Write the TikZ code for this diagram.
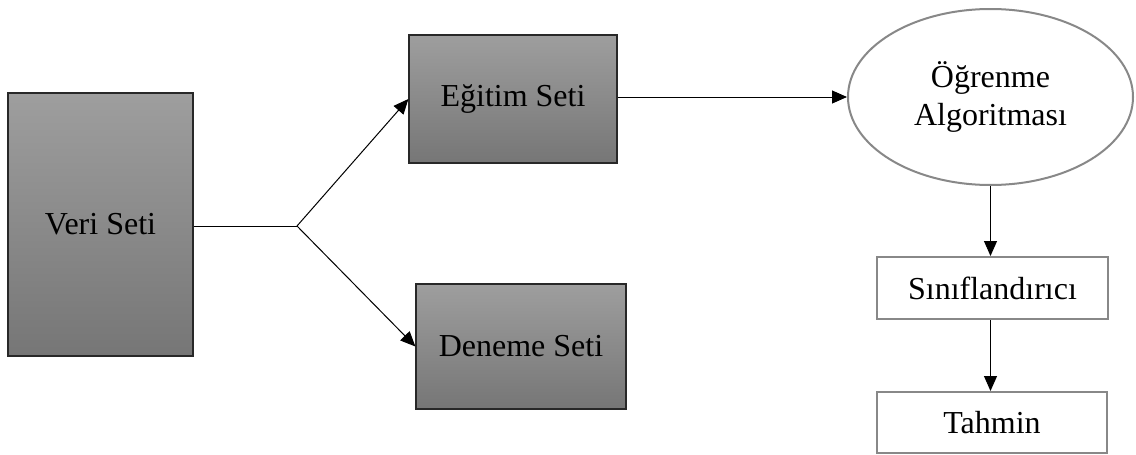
\documentclass[tikz,border=0pt]{standalone}
\usepackage{fontspec}
\setmainfont{Liberation Serif}
\usepackage{tikz}
\usetikzlibrary{shapes.geometric,arrows.meta}
\definecolor{settop}{RGB}{158,158,158}
\definecolor{setbottom}{RGB}{118,118,118}
\definecolor{outlinegray}{RGB}{136,136,136}
\tikzset{every picture/.style={line width=0.75pt}}
\tikzset{
  setbox/.style={draw={rgb,255:red,40;green,40;blue,40},line width=0.6pt,top color=settop,bottom color=setbottom,inner sep=0pt,font=\fontsize{16}{19}\selectfont},
  whitebox/.style={draw=outlinegray,line width=1pt,fill=white,inner sep=0pt,font=\fontsize{16}{19}\selectfont},
  link/.style={draw=black,line width=0.5pt},
  linkarrow/.style={link,-{Triangle[length=7.5pt,width=6.5pt]}}
}
\begin{document}
\begin{tikzpicture}[x=0.5pt,y=0.5pt,yscale=-1,xscale=1]
\useasboundingbox (0,0) rectangle (1136,455);

%Shape: Rectangle [Veri Seti]
\node [setbox,minimum width=92.5pt,minimum height=131.5pt] (veri) at (100.5,224.5) {Veri Seti};
%Shape: Rectangle [Egitim Seti]
\node [setbox,minimum width=104pt,minimum height=64pt] (egitim) at (513,99) {Eğitim Seti};
%Shape: Rectangle [Deneme Seti]
\node [setbox,minimum width=105pt,minimum height=62.5pt] (deneme) at (521,346.5) {Deneme Seti};
%Shape: Ellipse [Ogrenme Algoritmasi]
\node [whitebox,ellipse,minimum width=142.5pt,minimum height=88pt,align=center] (ogrenme) at (990.5,97) {Öğrenme\\Algoritması};
%Shape: Rectangle [Siniflandirici]
\node [whitebox,minimum width=115.5pt,minimum height=31pt] (sinif) at (992.5,288) {Sınıflandırıcı};
%Shape: Rectangle [Tahmin]
\node [whitebox,minimum width=115pt,minimum height=30.5pt] (tahmin) at (992,422.5) {Tahmin};

%Straight Lines [fork]
\coordinate (fork) at (297,226);
\draw [link] (veri.east |- fork) -- (fork);
\draw [linkarrow] (fork) -- (egitim.west);
\draw [linkarrow] (fork) -- (deneme.west);
%Straight Lines [to algorithm]
\draw [linkarrow] (egitim.east |- ogrenme.west) -- (ogrenme.west);
%Straight Lines [downwards]
\draw [linkarrow] (ogrenme.south) -- (ogrenme.south |- sinif.north);
\draw [linkarrow] (ogrenme.south |- sinif.south) -- (ogrenme.south |- tahmin.north);
\end{tikzpicture}
\end{document}
